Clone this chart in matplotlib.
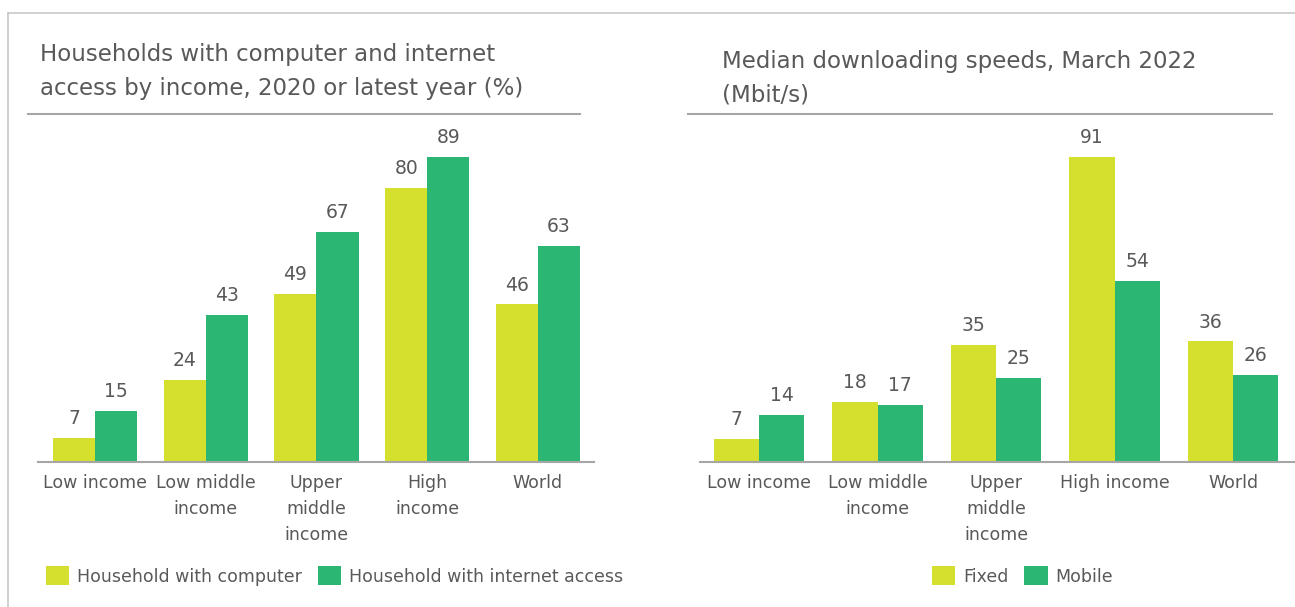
import numpy as np
import matplotlib.pyplot as plt
from matplotlib.lines import Line2D

# data
categories_left = ["Low income", "Low middle\nincome", "Upper\nmiddle\nincome", "High\nincome", "World"]
computer = [7, 24, 49, 80, 46]
internet = [15, 43, 67, 89, 63]

categories_right = ["Low income", "Low middle\nincome", "Upper\nmiddle\nincome", "High income", "World"]
fixed = [7, 18, 35, 91, 36]
mobile = [14, 17, 25, 54, 26]

YELLOW = "#D4DF2E"
GREEN = "#2BB673"
TEXT = "#595959"
GRID = "#A6A6A6"

W, H = 1295, 607
fig = plt.figure(figsize=(W / 100, H / 100), dpi=100)
plt.rcParams['font.family'] = 'DejaVu Sans'


def px_axes(x0, x1, ytop, ybot):
    return fig.add_axes([x0 / W, 1 - ybot / H, (x1 - x0) / W, (ybot - ytop) / H])


def draw(ax, cats, a, b, xlim, ylim):
    x = np.arange(len(cats))
    w = 0.38
    ba = ax.bar(x - w / 2, a, w, color=YELLOW)
    bb = ax.bar(x + w / 2, b, w, color=GREEN)
    ax.bar_label(ba, padding=7, fontsize=13.5, color=TEXT)
    ax.bar_label(bb, padding=7, fontsize=13.5, color=TEXT)
    ax.set_xlim(*xlim)
    ax.set_ylim(*ylim)
    ax.set_xticks(x)
    ax.set_xticklabels(cats, fontsize=12.5, color=TEXT, linespacing=1.55, va='top')
    ax.tick_params(axis='x', length=0, pad=9)
    ax.set_yticks([])
    for s in ['top', 'left', 'right']:
        ax.spines[s].set_visible(False)
    ax.spines['bottom'].set_color(GRID)
    ax.spines['bottom'].set_linewidth(1.5)
    return ba, bb


axl = px_axes(38, 594, 130, 462)
hl = draw(axl, categories_left, computer, internet, (-0.515, 4.506), (0, 96.8))
axr = px_axes(700, 1295, 130, 462)
hr = draw(axr, categories_right, fixed, mobile, (-0.498, 4.523), (0, 99.0))

# outer frame
fig.add_artist(Line2D([8 / W, 1], [1 - 13 / H] * 2, color="#C8C8C8", lw=1.2))
fig.add_artist(Line2D([8 / W] * 2, [1 - 13 / H, 0], color="#C8C8C8", lw=1.2))

# titles and rules under them
fig.text(40 / W, 1 - 43 / H, "Households with computer and internet\naccess by income, 2020 or latest year (%)",
         fontsize=16.5, color=TEXT, va='top', ha='left', linespacing=1.6)
fig.text(722 / W, 1 - 50 / H, "Median downloading speeds, March 2022\n(Mbit/s)",
         fontsize=16.5, color=TEXT, va='top', ha='left', linespacing=1.6)
fig.add_artist(Line2D([28 / W, 580 / W], [1 - 114 / H] * 2, color=GRID, lw=1.5))
fig.add_artist(Line2D([688 / W, 1272 / W], [1 - 114 / H] * 2, color=GRID, lw=1.5))

# legends
leg_kw = dict(frameon=False, ncol=2, fontsize=12.5, handlelength=1.35, handleheight=1.25,
              handletextpad=0.45, columnspacing=0.9, borderaxespad=0, borderpad=0)
l1 = fig.legend(hl, ["Household with computer", "Household with internet access"],
                loc='center left', bbox_to_anchor=(46 / W, 1 - 576 / H), **leg_kw)
l2 = fig.legend(hr, ["Fixed", "Mobile"],
                loc='center left', bbox_to_anchor=(932 / W, 1 - 576 / H), **leg_kw)
for lg in (l1, l2):
    for t in lg.get_texts():
        t.set_color(TEXT)

fig.savefig("out.png", dpi=100)
